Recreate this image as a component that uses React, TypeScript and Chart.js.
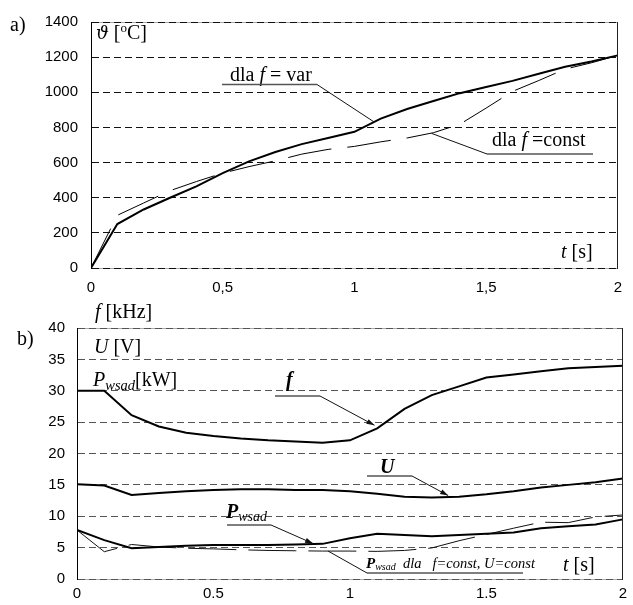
import React, { useEffect, useRef } from 'react';
import { Chart, registerables } from 'chart.js';
Chart.register(...registerables);

// ---------- data ----------
const timeS = [0, 0.1, 0.2, 0.3, 0.4, 0.5, 0.6, 0.7, 0.8, 0.9, 1.0, 1.1, 1.2, 1.3, 1.4, 1.5, 1.6, 1.7, 1.8, 1.9, 2.0];
// chart a) temperature [°C]
const thetaFVar = [0, 250, 333, 400, 465, 540, 607, 660, 705, 740, 775, 850, 905, 950, 995, 1030, 1065, 1105, 1145, 1175, 1210];
const thetaFConst = [0, 300, 370, 440, 492, 540, 577, 610, 648, 675, 692, 718, 740, 770, 818, 910, 1005, 1067, 1132, 1168, 1210];
// chart b)
const freqKHz = [30, 30, 26.1, 24.3, 23.3, 22.8, 22.4, 22.1, 21.9, 21.7, 22.1, 24.0, 27.1, 29.3, 30.7, 32.1, 32.6, 33.1, 33.6, 33.8, 34.0];
const voltV = [15.1, 14.9, 13.4, 13.7, 14.0, 14.2, 14.3, 14.3, 14.2, 14.2, 14.0, 13.6, 13.1, 13.0, 13.1, 13.5, 14.0, 14.6, 15.0, 15.4, 16.0];
const powerKW = [7.8, 6.2, 4.9, 5.1, 5.3, 5.4, 5.4, 5.4, 5.5, 5.6, 6.5, 7.2, 7.0, 6.8, 7.0, 7.2, 7.4, 8.1, 8.4, 8.7, 9.5];
const powerConstKW = [7.8, 4.35, 5.5, 5.1, 4.9, 4.8, 4.65, 4.55, 4.5, 4.45, 4.45, 4.4, 4.55, 4.95, 6.1, 7.1, 8.1, 9.05, 8.98, 9.9, 10.2];
// tick labels
const xTickLabelsA = ['0', '0,5', '1', '1,5', '2'];
const xTickLabelsB = ['0', '0.5', '1', '1.5', '2'];

const SERIF = "'Liberation Serif', 'DejaVu Serif', serif";
const SANS = "'Liberation Sans', Arial, sans-serif";

const pts = (ys: number[]) => timeS.map((t, i) => ({ x: t, y: ys[i] }));

type Run = { t: string; f: string; dy?: number; dx?: number };
function drawRuns(ctx: CanvasRenderingContext2D, x: number, y: number, runs: Run[]) {
  let cx = x;
  for (const r of runs) {
    ctx.font = r.f;
    cx += r.dx || 0;
    ctx.fillText(r.t, cx, y + (r.dy || 0));
    cx += ctx.measureText(r.t).width;
  }
  return cx;
}

function seg(ctx: CanvasRenderingContext2D, x1: number, y1: number, x2: number, y2: number, color: string, w: number) {
  ctx.save();
  ctx.strokeStyle = color;
  ctx.lineWidth = w;
  ctx.setLineDash([]);
  ctx.beginPath();
  ctx.moveTo(x1, y1);
  ctx.lineTo(x2, y2);
  ctx.stroke();
  ctx.restore();
}

function leader(ctx: CanvasRenderingContext2D, x1: number, y1: number, x2: number, y2: number, arrow: boolean) {
  seg(ctx, x1, y1, x2, y2, '#111', 1);
  if (arrow) {
    const a = Math.atan2(y2 - y1, x2 - x1);
    const L = 8, W = 2.6;
    ctx.save();
    ctx.fillStyle = '#111';
    ctx.beginPath();
    ctx.moveTo(x2, y2);
    ctx.lineTo(x2 - L * Math.cos(a) + W * Math.sin(a), y2 - L * Math.sin(a) - W * Math.cos(a));
    ctx.lineTo(x2 - L * Math.cos(a) - W * Math.sin(a), y2 - L * Math.sin(a) + W * Math.cos(a));
    ctx.closePath();
    ctx.fill();
    ctx.restore();
  }
}

const framePlugin = {
  id: 'frame',
  beforeDraw(chart: any) {
    const { ctx, chartArea: ca } = chart;
    seg(ctx, ca.left, ca.top + 0.5, ca.right, ca.top + 0.5, '#aaa', 1);
    seg(ctx, ca.left, ca.bottom + 0.5, ca.right, ca.bottom + 0.5, '#aaa', 1);
  },
  afterDatasetsDraw(chart: any) {
    const { ctx, chartArea: ca } = chart;
    seg(ctx, Math.round(ca.right) - 0.5, ca.top, Math.round(ca.right) - 0.5, ca.bottom + 1, '#222', 1);
  },
};

const annotA = {
  id: 'annotA',
  afterDraw(chart: any) {
    const ctx: CanvasRenderingContext2D = chart.ctx;
    const xs = chart.scales.x, ys = chart.scales.y;
    const P = (t: number, v: number) => [xs.getPixelForValue(t), ys.getPixelForValue(v)];
    ctx.save();
    ctx.fillStyle = '#000';
    ctx.textAlign = 'left';
    ctx.textBaseline = 'alphabetic';
    const R = `20px ${SERIF}`, I = `italic 20px ${SERIF}`;
    drawRuns(ctx, 10, 31, [{ t: 'a)', f: R }]);
    drawRuns(ctx, 96, 39, [{ t: 'ϑ', f: `italic 18px 'DejaVu Serif', serif` }, { t: ' [', f: R }, { t: 'o', f: `13px ${SERIF}`, dy: -7 }, { t: 'C]', f: R }]);
    // dla f = var
    drawRuns(ctx, 230, 81, [{ t: 'dla ', f: R }, { t: 'f', f: I }, { t: ' = var', f: R }]);
    seg(ctx, 222, 84.5, 317, 84.5, '#555', 1.3);
    const [ax, ay] = P(1.076, 830);
    leader(ctx, 317, 84.5, ax, ay, false);
    // dla f = const
    drawRuns(ctx, 492, 146, [{ t: 'dla ', f: R }, { t: 'f', f: I }, { t: ' =const', f: R }]);
    seg(ctx, 487, 154, 593, 154, '#555', 1.3);
    const [bx, by] = P(1.293, 766);
    leader(ctx, 487, 154, bx, by, false);
    // t [s]
    drawRuns(ctx, 561, 258, [{ t: 't', f: I }, { t: ' [s]', f: R }]);
    ctx.restore();
  },
};

const annotB = {
  id: 'annotB',
  afterDraw(chart: any) {
    const ctx: CanvasRenderingContext2D = chart.ctx;
    const xs = chart.scales.x, ys = chart.scales.y;
    const P = (t: number, v: number) => [xs.getPixelForValue(t), ys.getPixelForValue(v)];
    ctx.save();
    ctx.fillStyle = '#000';
    ctx.textAlign = 'left';
    ctx.textBaseline = 'alphabetic';
    const R = `20px ${SERIF}`, I = `italic 20px ${SERIF}`, BI = `bold italic 20px ${SERIF}`;
    drawRuns(ctx, 95, 18, [{ t: 'f', f: I }, { t: ' [kHz]', f: R }]);
    drawRuns(ctx, 17, 45, [{ t: 'b)', f: R }]);
    drawRuns(ctx, 94, 53, [{ t: 'U', f: I }, { t: ' [V]', f: R }]);
    drawRuns(ctx, 93, 86, [{ t: 'P', f: I }, { t: 'wsad', f: `italic 14.5px ${SERIF}`, dy: 4 }, { t: '[kW]', f: R }]);
    // f label
    drawRuns(ctx, 286, 86, [{ t: 'f', f: BI }]);
    seg(ctx, 275, 96, 320, 96, '#555', 1.3);
    const [fx, fy] = P(1.09, 24.5);
    leader(ctx, 320, 96, fx, fy, true);
    // U label
    drawRuns(ctx, 380, 173, [{ t: 'U', f: BI }]);
    seg(ctx, 367, 176, 412, 176, '#555', 1.3);
    const [ux, uy] = P(1.36, 13.3);
    leader(ctx, 412, 176, ux, uy, true);
    // P_wsad label
    drawRuns(ctx, 226, 218, [{ t: 'P', f: BI }, { t: 'wsad', f: `italic 14px ${SERIF}`, dy: 3 }]);
    seg(ctx, 227, 225, 271, 225, '#555', 1.3);
    const [px, py] = P(0.865, 5.65);
    leader(ctx, 271, 225, px, py, true);
    // P_wsad dla f=const, U=const
    drawRuns(ctx, 366, 268, [
      { t: 'P', f: `bold italic 15px ${SERIF}` },
      { t: 'wsad', f: `italic 10px ${SERIF}`, dy: 2 },
      { t: '  dla   ', f: `italic 14.5px ${SERIF}` },
      { t: 'f=const, U=const', f: `italic 14.5px ${SERIF}` },
    ]);
    seg(ctx, 367, 273, 523, 273, '#555', 1.3);
    const [qx, qy] = P(0.92, 4.45);
    leader(ctx, 367, 273, qx, qy, false);
    drawRuns(ctx, 563, 271, [{ t: 't', f: I }, { t: ' [s]', f: R }]);
    ctx.restore();
  },
};

function makeConfig(kind: 'a' | 'b'): any {
  const isA = kind === 'a';
  const datasets = isA
    ? [
        { data: pts(thetaFVar), borderColor: '#000', borderWidth: 2, pointRadius: 0, tension: 0 },
        { data: pts(thetaFConst), borderColor: '#000', borderWidth: 1, borderDash: [44, 16], pointRadius: 0, tension: 0 },
      ]
    : [
        { data: pts(freqKHz), borderColor: '#000', borderWidth: 2, pointRadius: 0, tension: 0 },
        { data: pts(voltV), borderColor: '#000', borderWidth: 2, pointRadius: 0, tension: 0 },
        { data: pts(powerKW), borderColor: '#000', borderWidth: 2, pointRadius: 0, tension: 0 },
        { data: pts(powerConstKW), borderColor: '#111', borderWidth: 1, borderDash: [48, 12], pointRadius: 0, tension: 0 },
      ];
  const labels = isA ? xTickLabelsA : xTickLabelsB;
  return {
    type: 'line',
    data: { datasets },
    plugins: [framePlugin, isA ? annotA : annotB],
    options: {
      animation: false,
      responsive: false,
      devicePixelRatio: 1,
      layout: { padding: { left: 0, right: 6, top: isA ? 17 : 28, bottom: 0 } },
      plugins: { legend: { display: false }, tooltip: { enabled: false }, title: { display: false } },
      scales: {
        x: {
          type: 'linear',
          min: 0,
          max: 2,
          afterFit: (s: any) => { s.height = isA ? 32 : 26; },
          grid: { display: false, drawTicks: false },
          border: { display: false },
          ticks: {
            stepSize: 0.5,
            padding: isA ? 11 : 6,
            color: '#000',
            font: { family: SANS, size: 15 },
            maxRotation: 0,
            callback: (_v: any, i: number) => labels[i],
          },
        },
        y: {
          type: 'linear',
          min: 0,
          max: isA ? 1400 : 40,
          afterFit: (s: any) => { s.width = isA ? 91 : 77; },
          grid: { color: isA ? '#111' : '#555', lineWidth: 1, drawTicks: false },
          border: { display: true, color: '#000', width: 1, dash: [7, 4] },
          ticks: {
            stepSize: isA ? 200 : 5,
            padding: isA ? 13 : 12,
            color: '#000',
            font: { family: SANS, size: 15 },
            callback: (v: any) => String(v),
          },
        },
      },
    },
  };
}

function ChartBox({ kind, top, height }: { kind: 'a' | 'b'; top: number; height: number }) {
  const ref = useRef<HTMLCanvasElement | null>(null);
  useEffect(() => {
    const c = new Chart(ref.current as HTMLCanvasElement, makeConfig(kind));
    return () => c.destroy();
  }, [kind]);
  return (
    <div style={{ position: 'absolute', left: 0, top, width: 633, height }}>
      <canvas ref={ref} width={633} height={height} style={{ width: 633, height, display: 'block' }} />
    </div>
  );
}

export default function App() {
  return (
    <div style={{ position: 'absolute', left: 0, top: 0, width: 633, height: 605, background: '#fff' }}>
      <ChartBox kind="a" top={0} height={300} />
      <ChartBox kind="b" top={300} height={305} />
    </div>
  );
}
